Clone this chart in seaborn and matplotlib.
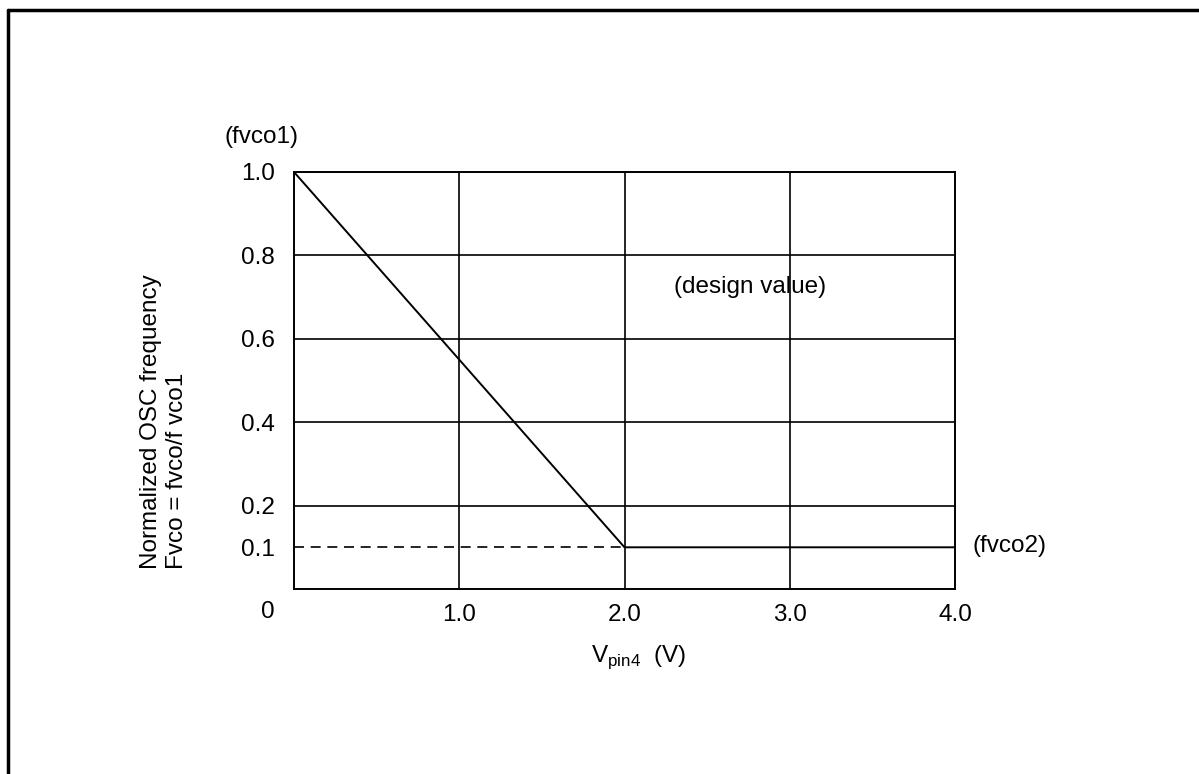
import matplotlib
matplotlib.use("Agg")
import matplotlib.pyplot as plt
import seaborn as sns
from matplotlib.lines import Line2D

# --- data ---
v_pin4 = [0.0, 2.0, 4.0]          # V
f_norm = [1.0, 0.1, 0.1]          # fvco / fvco1
fvco2_level = 0.1
x_ticks = [1.0, 2.0, 3.0, 4.0]
x_tick_labels = ["1.0", "2.0", "3.0", "4.0"]
y_ticks = [0.1, 0.2, 0.4, 0.6, 0.8, 1.0]
y_tick_labels = ["0.1", "0.2", "0.4", "0.6", "0.8", "1.0"]

W, H = 1199, 774
FS = 17.5

sns.set_style("white")
plt.rcParams["font.family"] = ["Liberation Sans", "DejaVu Sans"]
plt.rcParams["text.color"] = "black"
plt.rcParams["mathtext.fontset"] = "custom"
plt.rcParams["mathtext.rm"] = "Liberation Sans"

fig = plt.figure(figsize=(W / 100, H / 100), dpi=100)
# axes box in pixels: left 294, right 955, top 172, bottom 589
ax = fig.add_axes([294 / W, 1 - 589 / H, (955 - 294) / W, (589 - 172) / H])

sns.lineplot(x=v_pin4, y=f_norm, ax=ax, color="black", linewidth=1.4)
# dashed reference at fvco2 up to the knee
ax.plot([0, v_pin4[1]], [fvco2_level, fvco2_level], color="black",
        linewidth=1.2, linestyle=(0, (6, 4)))

ax.set_xlim(0, 4)
ax.set_ylim(0, 1)
ax.set_xticks(x_ticks)
ax.set_xticklabels(x_tick_labels)
ax.set_yticks(y_ticks)
ax.set_yticklabels(y_tick_labels)
ax.tick_params(axis="both", length=0, labelsize=FS, colors="black")
ax.tick_params(axis="x", pad=11)
ax.tick_params(axis="y", pad=13.5)

ax.grid(True, color="black", linewidth=1.2)
for val, gl in zip(y_ticks, ax.get_ygridlines()):
    if val == fvco2_level:
        gl.set_visible(False)
for val, gl in zip(x_ticks, ax.get_xgridlines()):
    if val == 4.0:
        gl.set_visible(False)

for s in ax.spines.values():
    s.set_color("black")
    s.set_linewidth(1.4)

# labels and notes
fig.text(268 / W, 1 - 612 / H, "0", fontsize=FS, ha="center", va="center")
fig.text(639 / W, 1 - 657 / H, r"V$_{\rm pin4}$  (V)", fontsize=FS,
         ha="center", va="center")
fig.text(164 / W, 1 - 569 / H, "Normalized OSC frequency\nFvco = fvco/f vco1",
         fontsize=FS, rotation=90, ha="center", va="bottom",
         multialignment="left", linespacing=1.2)
fig.text(261 / W, 1 - 137 / H, "(fvco1)", fontsize=FS, ha="center", va="center")
fig.text(750 / W, 1 - 287 / H, "(design value)", fontsize=FS,
         ha="center", va="center")
fig.text(973 / W, 1 - 546 / H, "(fvco2)", fontsize=FS, ha="left", va="center")

# page frame (only top and left edges show)
fig.add_artist(Line2D([8 / W, 1], [1 - 10 / H, 1 - 10 / H], color="black",
                      linewidth=2.5, transform=fig.transFigure))
fig.add_artist(Line2D([8 / W, 8 / W], [0, 1 - 10 / H], color="black",
                      linewidth=2.5, transform=fig.transFigure))

fig.savefig("out.png", dpi=100)
plt.close(fig)
